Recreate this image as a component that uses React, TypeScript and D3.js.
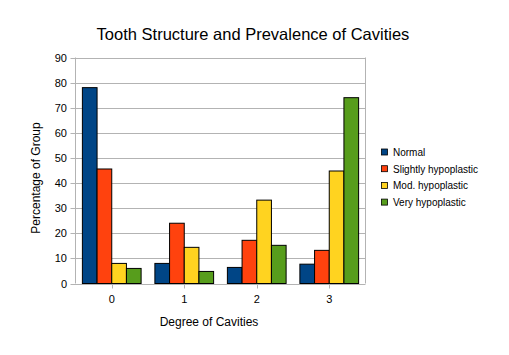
import React from "react";
import * as d3 from "d3";

const categories = ["0", "1", "2", "3"];
const seriesNames = ["Normal", "Slightly hypoplastic", "Mod. hypoplastic", "Very hypoplastic"];
const normal = [78, 8, 6.4, 7.7];
const slightly = [45.6, 24, 17.2, 13.2];
const moderate = [8, 14.4, 33.2, 44.8];
const very = [6, 4.8, 15.2, 74];
const colors = ["#004586", "#ff420e", "#ffd320", "#579d1c"];
const yTicks = [0, 10, 20, 30, 40, 50, 60, 70, 80, 90];

const W = 509, H = 355;
const L = 75.5, R = 365.5, T = 57.5, B = 283.5;
const FONT = "'Liberation Sans', Arial, sans-serif";

export default function App() {
  const series = [normal, slightly, moderate, very];
  const x = d3.scaleBand<string>().domain(categories).range([L, R]).paddingInner(0.19).paddingOuter(0.095);
  const x1 = d3.scaleBand<number>().domain([0, 1, 2, 3]).range([0, x.bandwidth()]);
  const y = d3.scaleLinear().domain([0, 90]).range([B, T]);
  const cx = d3.scalePoint<string>().domain(categories).range([L, R]).padding(0.5);

  return (
    <svg width={W} height={H} style={{ position: "absolute", left: 0, top: 0, background: "#fff" }}>
      <rect width={W} height={H} fill="#fff" />
      <text x={253} y={40} textAnchor="middle" fontFamily={FONT} fontSize={16.5} fill="#000">
        Tooth Structure and Prevalence of Cavities
      </text>
      {yTicks.map((t) => (
        <g key={t}>
          <line x1={L - 5} x2={R} y1={Math.round(y(t)) + 0.5} y2={Math.round(y(t)) + 0.5} stroke="#b3b3b3" strokeWidth={1} />
          <text x={67} y={y(t) + 4} textAnchor="end" fontFamily={FONT} fontSize={11} fill="#000">{t}</text>
        </g>
      ))}
      <line x1={L} x2={L} y1={T} y2={B} stroke="#b3b3b3" />
      <line x1={R} x2={R} y1={T} y2={B} stroke="#b3b3b3" />
      {categories.map((c) => (
        <g key={c}>
          <line x1={Math.round(cx(c)!) + 0.5} x2={Math.round(cx(c)!) + 0.5} y1={B} y2={B + 5} stroke="#b3b3b3" />
          <text x={cx(c)!} y={303} textAnchor="middle" fontFamily={FONT} fontSize={11} fill="#000">{c}</text>
        </g>
      ))}
      {categories.map((c, ci) =>
        series.map((s, si) => (
          <rect
            key={c + si}
            x={x(c)! + x1(si)!}
            y={y(s[ci])}
            width={x1.bandwidth()}
            height={B - y(s[ci])}
            fill={colors[si]}
            stroke="#000"
            strokeWidth={1}
          />
        ))
      )}
      <text x={209} y={326} textAnchor="middle" fontFamily={FONT} fontSize={12} fill="#000">Degree of Cavities</text>
      <text transform={`translate(40,178) rotate(-90)`} textAnchor="middle" fontFamily={FONT} fontSize={12} fill="#000">
        Percentage of Group
      </text>
      {seriesNames.map((n, i) => (
        <g key={n}>
          <rect x={381.5} y={149 + i * 16.7} width={6} height={6} fill={colors[i]} stroke="#000" strokeWidth={0.8} />
          <text x={393} y={156 + i * 16.7} fontFamily={FONT} fontSize={10} fill="#000">{n}</text>
        </g>
      ))}
    </svg>
  );
}
